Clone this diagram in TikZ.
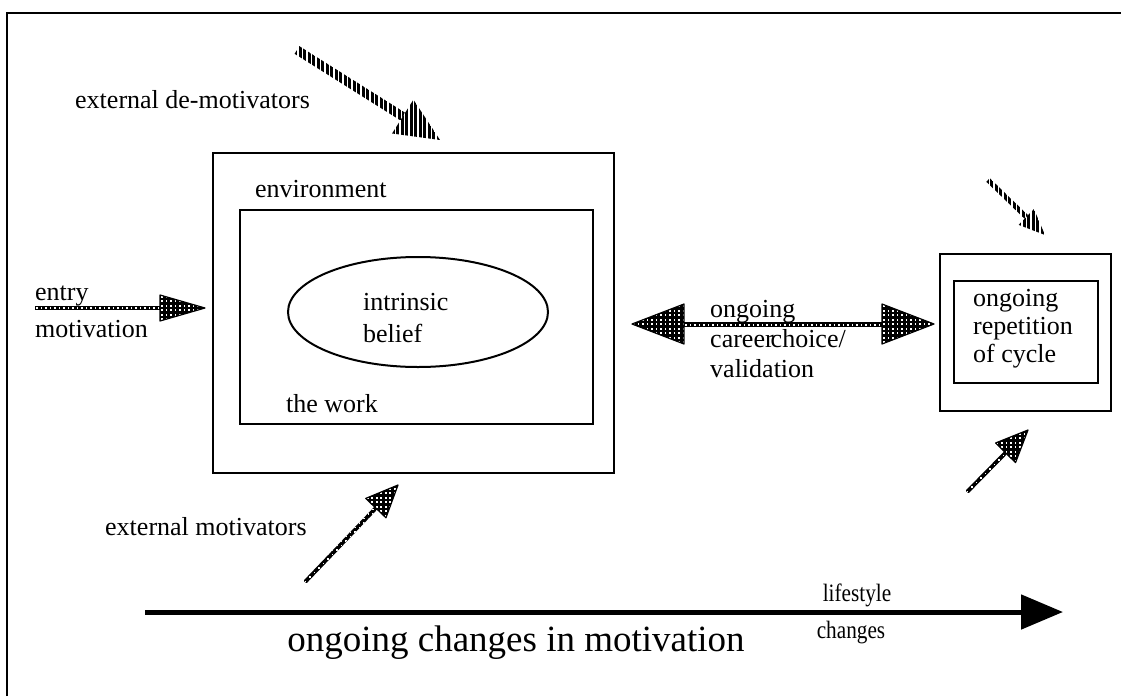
\documentclass[tikz,border=0pt]{standalone}
\usepackage{fontspec}
\setmainfont{Liberation Serif}
\usetikzlibrary{calc,shapes.geometric,arrows.meta}
\newcommand{\fatarr}[7]{%
  \coordinate (hb) at ($(#2)!#4!(#1)$);
  \path[#6] ($(#1)!#3!90:(#2)$) -- ($(hb)!#3!90:(#2)$) -- ($(hb)!#3!-90:(#2)$) -- ($(#1)!#3!-90:(#2)$) -- cycle;
  \path[#7] ($(hb)!#5!90:(#2)$) -- (#2) -- ($(hb)!#5!-90:(#2)$) -- cycle;
}
\tikzset{
  box/.style={draw,line width=2pt,fill=none},
  lbl/.style={font=\fontsize{26}{29}\selectfont,inner sep=0pt},
  stripefill/.style={path picture={
    \foreach \i in {0,...,40}
      \draw[line width=2.8pt] ([xshift=\i*4.5pt+1pt]path picture bounding box.south west) -- ([xshift=\i*4.5pt+1pt]path picture bounding box.north west);}},
  gridfill/.style={path picture={
    \fill (path picture bounding box.south west) rectangle (path picture bounding box.north east);
    \foreach \i in {0,...,40}
      \foreach \j in {0,...,26}
        \fill[white] ([shift={(\i*4.5pt+1pt,\j*4.5pt+1pt)}]path picture bounding box.south west) rectangle +(1.8pt,1.8pt);}},
  gridhead/.style={gridfill,draw,line width=1.2pt,line join=round},
}
\begin{document}
\begin{tikzpicture}[x=1pt,y=-1pt]
\useasboundingbox (0,0) rectangle (1121,696);
% frame (top and left only)
\draw[line width=2.4pt] (7,696) -- (7,13) -- (1121,13);
% main boxes
\node[box,minimum width=401pt,minimum height=320pt,anchor=north west] (outer) at (212,152) {};
\node[box,minimum width=353pt,minimum height=214pt,anchor=north west] (inner) at (239,209) {};
\node[draw,line width=2pt,ellipse,minimum width=260pt,minimum height=110pt,inner sep=0pt] (ell) at (418,312) {};
\node[lbl,align=left,anchor=base west,font=\fontsize{26}{32}\selectfont] (intr) at (363,342) {intrinsic\\belief};
\node[lbl,anchor=base west] (env) at (255,197) {environment};
\node[lbl,anchor=base west] (work) at (286,412) {the work};
% right boxes
\node[box,minimum width=171pt,minimum height=157pt,anchor=north west] (router) at (939,253) {};
\node[box,minimum width=144pt,minimum height=102pt,anchor=north west] (rinner) at (953,280) {};
\node[lbl,align=left,anchor=base west,font=\fontsize{26}{28}\selectfont] (cyc) at (973,362) {ongoing\\repetition\\of cycle};
% external de-motivators
\node[lbl,anchor=base west] (demot) at (75,108) {external de-motivators};
\coordinate (d1) at (297,50);
\coordinate (d2) at (440,140);
\fatarr{d1}{d2}{4.5pt}{44pt}{20pt}{stripefill}{stripefill}
\coordinate (d3) at (988,180);
\coordinate (d4) at (1045,235);
\fatarr{d3}{d4}{2.5pt}{26pt}{11pt}{stripefill}{stripefill}
% external motivators
\node[lbl,anchor=base west] (mot) at (105,535) {external motivators};
\coordinate (m1) at (305,582);
\coordinate (m2) at (398,485);
\fatarr{m1}{m2}{2pt}{32pt}{14pt}{gridfill}{gridhead}
\coordinate (m3) at (967,492);
\coordinate (m4) at (1028,430);
\fatarr{m3}{m4}{2pt}{32pt}{14pt}{gridfill}{gridhead}
% entry motivation
\node[lbl,anchor=base west] (entry) at (35,300) {entry};
\node[lbl,anchor=base west] (motiv) at (35,337) {motivation};
\coordinate (e1) at (35,308);
\coordinate (e2) at (205,308);
\fatarr{e1}{e2}{2pt}{45pt}{13pt}{gridfill}{gridhead}
% double arrow
\coordinate (c1) at (632,324);
\coordinate (c2) at (934,324);
\coordinate (cm) at (783,324);
\fatarr{cm}{c1}{2.5pt}{52pt}{20pt}{gridfill}{gridhead}
\fatarr{cm}{c2}{2.5pt}{52pt}{20pt}{gridfill}{gridhead}
\node[lbl,align=left,anchor=base west,font=\fontsize{26}{30}\selectfont] (career) at (710,377) {ongoing\\career\hspace{-3pt}choice/\\validation};
% bottom arrow
\coordinate (b1) at (145,612);
\coordinate (b2) at (1063,612);
\draw[line width=5pt,-{Triangle[length=42pt,width=34pt]}] (b1) -- (b2);
\node[inner sep=0pt,font=\fontsize{37}{40}\selectfont] (chg) at (516,643) {ongoing changes in motivation};
\node[inner sep=0pt,font=\fontsize{25}{27}\selectfont\addfontfeature{FakeStretch=0.85}] (life) at (857,595) {lifestyle};
\node[inner sep=0pt,font=\fontsize{25}{27}\selectfont\addfontfeature{FakeStretch=0.85}] (lchg) at (851,633) {changes};
\end{tikzpicture}
\end{document}
